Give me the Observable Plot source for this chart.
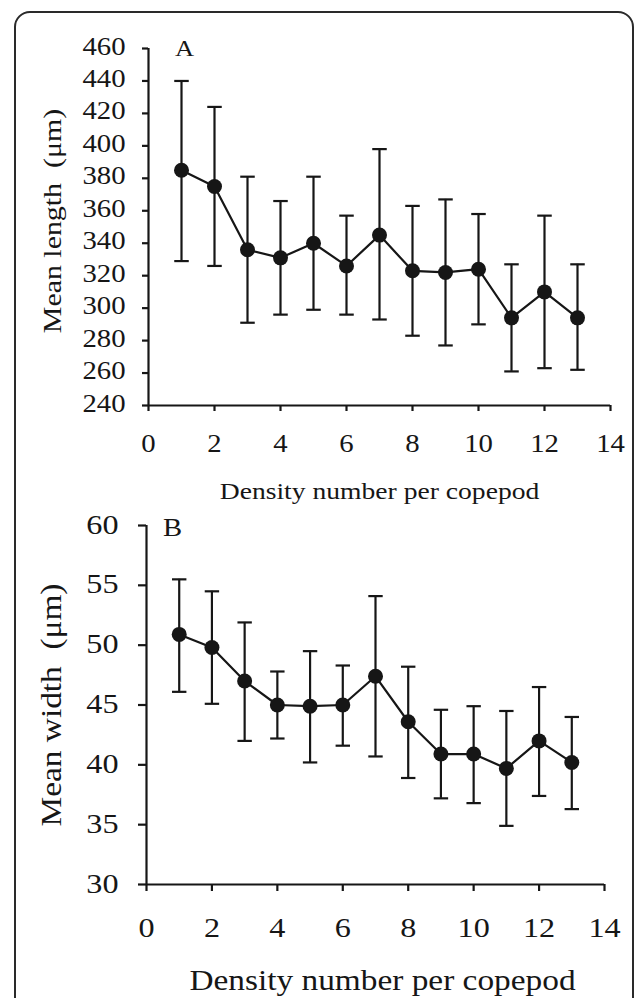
<!DOCTYPE html>
<html>
<head>
<meta charset="utf-8">
<script src="https://cdn.jsdelivr.net/npm/d3@7"></script>
<script src="https://cdn.jsdelivr.net/npm/@observablehq/plot@0.6"></script>
<style>
  body { margin: 0; background: #fff; }
  #wrap { position: relative; width: 636px; height: 998px; overflow: hidden; background: #fff; }
  #frame { position: absolute; left: 14px; top: 11px; width: 616px; height: 1010px;
           border: 2px solid #2a2a2a; border-radius: 16px; }
  #panelA { position: absolute; left: 0; top: 0; }
  #panelB { position: absolute; left: 0; top: 480px; }
</style>
</head>
<body>
<div id="wrap">
  <div id="frame"></div>
  <div id="panelA"></div>
  <div id="panelB"></div>
</div>
<script>
// ---- data ----
const density = [1, 2, 3, 4, 5, 6, 7, 8, 9, 10, 11, 12, 13];
const xTicks = [0, 2, 4, 6, 8, 10, 12, 14];

// Panel A: mean length (µm) with error bar ends
const lengthMean  = [385, 375, 336, 331, 340, 326, 345, 323, 322, 324, 294, 310, 294];
const lengthUpper = [440, 424, 381, 366, 381, 357, 398, 363, 367, 358, 327, 357, 327];
const lengthLower = [329, 326, 291, 296, 299, 296, 293, 283, 277, 290, 261, 263, 262];
const lengthTicks = [240, 260, 280, 300, 320, 340, 360, 380, 400, 420, 440, 460];

// Panel B: mean width (µm) with error bar ends
const widthMean  = [50.9, 49.8, 47.0, 45.0, 44.9, 45.0, 47.4, 43.6, 40.9, 40.9, 39.7, 42.0, 40.2];
const widthUpper = [55.5, 54.5, 51.9, 47.8, 49.5, 48.3, 54.1, 48.2, 44.6, 44.9, 44.5, 46.5, 44.0];
const widthLower = [46.1, 45.1, 42.0, 42.2, 40.2, 41.6, 40.7, 38.9, 37.2, 36.8, 34.9, 37.4, 36.3];
const widthTicks = [30, 35, 40, 45, 50, 55, 60];

const xLabel = "Density number per copepod";

// ---- styling ----
const INK = "#161616";
const FONT = "'Liberation Serif', 'Times New Roman', serif";
const STRETCH = 1.15;   // the reference's serif glyphs are wider than Times
const CAP = 0.22;       // half-width of error-bar caps, in x units
const SW = 2.2;

function widenText(svg) {
  svg.querySelectorAll("text").forEach(t => {
    const x = t.getAttribute("x"), y = t.getAttribute("y");
    let tr = t.getAttribute("transform") || "";
    if (x !== null || y !== null) {
      tr += ` translate(${+x || 0},${+y || 0})`;
      t.removeAttribute("x"); t.removeAttribute("y");
    }
    t.setAttribute("transform", tr + ` scale(${STRETCH},1)`);
  });
}

function panel(cfg) {
  const rows = density.map((d, i) => ({x: d, m: cfg.mean[i], hi: cfg.upper[i], lo: cfg.lower[i]}));
  const svg = Plot.plot({
    width: 636,
    height: cfg.height,
    marginLeft: cfg.ml, marginRight: cfg.mr, marginTop: cfg.mt, marginBottom: cfg.mb,
    style: {fontFamily: FONT, color: INK, background: "transparent", overflow: "visible"},
    x: {domain: [0, 14]},
    y: {domain: [cfg.ticks[0], cfg.ticks[cfg.ticks.length - 1]]},
    marks: [
      Plot.axisY({ticks: cfg.ticks, tickSize: cfg.yts, tickPadding: cfg.ytp, fontSize: cfg.tfs,
                  strokeWidth: SW, label: null}),
      Plot.axisX({ticks: xTicks, tickSize: cfg.xts, tickPadding: cfg.xtp, fontSize: cfg.tfs,
                  strokeWidth: SW, label: null}),
      Plot.ruleX([0], {stroke: INK, strokeWidth: SW}),
      Plot.ruleY([cfg.ticks[0]], {stroke: INK, strokeWidth: SW}),
      Plot.ruleX(rows, {x: "x", y1: "lo", y2: "hi", stroke: INK, strokeWidth: SW}),
      Plot.link(rows, {x1: d => d.x - CAP, x2: d => d.x + CAP, y1: "hi", y2: "hi", stroke: INK, strokeWidth: SW}),
      Plot.link(rows, {x1: d => d.x - CAP, x2: d => d.x + CAP, y1: "lo", y2: "lo", stroke: INK, strokeWidth: SW}),
      Plot.line(rows, {x: "x", y: "m", stroke: INK, strokeWidth: SW}),
      Plot.dot(rows, {x: "x", y: "m", r: 7.5, fill: INK, stroke: "none"}),
      Plot.text([cfg.letter], {frameAnchor: "top-left", textAnchor: "middle", lineAnchor: "middle",
                               dx: cfg.letterDx, dy: cfg.letterDy, fontSize: cfg.letterFs, fill: INK}),
      Plot.text([cfg.yLabel], {frameAnchor: "left", rotate: -90, textAnchor: "middle", lineAnchor: "middle",
                               dx: cfg.ylDx, dy: cfg.ylDy, fontSize: cfg.ylFs, fill: INK}),
      Plot.text([xLabel], {frameAnchor: "bottom", textAnchor: "middle", lineAnchor: "middle",
                           dx: cfg.xlDx, dy: cfg.xlDy, fontSize: cfg.xlFs, fill: INK})
    ]
  });
  // nudge tick labels vertically to sit as in the reference
  svg.querySelectorAll("g[aria-label='y-axis tick label']").forEach(g => {
    g.setAttribute("transform", (g.getAttribute("transform") || "") + ` translate(0,${cfg.yShift})`);
  });
  svg.querySelectorAll("g[aria-label='x-axis tick label']").forEach(g => {
    g.setAttribute("transform", (g.getAttribute("transform") || "") + ` translate(0,${cfg.xShift})`);
  });
  widenText(svg);
  return svg;
}

document.getElementById("panelA").appendChild(panel({
  mean: lengthMean, upper: lengthUpper, lower: lengthLower, ticks: lengthTicks,
  height: 480, ml: 148, mr: 26, mt: 48, mb: 75,
  tfs: 25, yts: 6, ytp: 17, xts: 6, xtp: 24, yShift: 6, xShift: 16,
  letter: "A", letterDx: 36, letterDy: 7, letterFs: 23,
  yLabel: "Mean length\u00a0\u00a0(\u03bcm)", ylDx: -88, ylDy: -6, ylFs: 26,
  xlDx: 0, xlDy: 93, xlFs: 24
}));

document.getElementById("panelB").appendChild(panel({
  mean: widthMean, upper: widthUpper, lower: widthLower, ticks: widthTicks,
  height: 518, ml: 146, mr: 32, mt: 45, mb: 114,
  tfs: 28, yts: 8, ytp: 20, xts: 7, xtp: 27, yShift: 8, xShift: 18,
  letter: "B", letterDx: 26, letterDy: 10, letterFs: 25,
  yLabel: "Mean width\u00a0\u00a0(\u03bcm)", ylDx: -86, ylDy: 0, ylFs: 29,
  xlDx: 7, xlDy: 105, xlFs: 29
}));
</script>
</body>
</html>
